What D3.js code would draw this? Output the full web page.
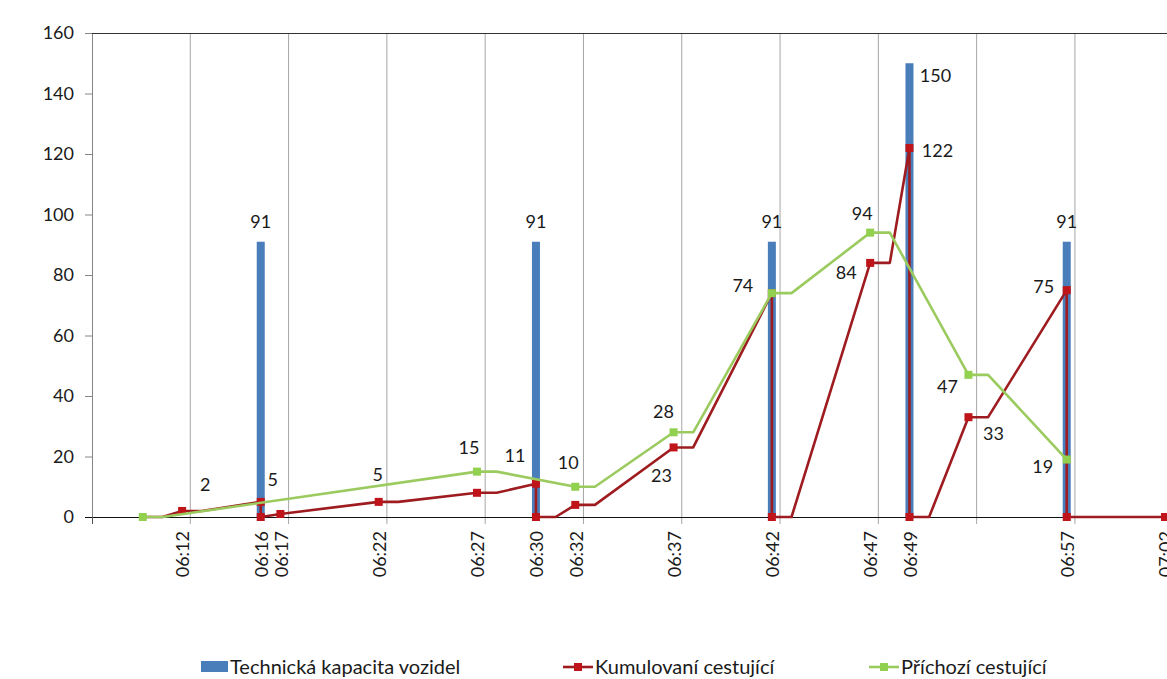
<!DOCTYPE html>
<html>
<head>
<meta charset="utf-8">
<script src="https://cdn.jsdelivr.net/npm/d3@7/dist/d3.min.js"></script>
<style>
  html, body { margin: 0; padding: 0; background: #fff; }
  svg { display: block; }
  text { font-family: Lato, "Open Sans", sans-serif; fill: #1a1a1a; }
</style>
</head>
<body>
<svg id="chart" width="1167" height="679"></svg>
<script>
// ---- data -------------------------------------------------------------
// vehicle capacity at each departure
const capacityTimes  = ["06:16", "06:30", "06:42", "06:49", "06:57"];
const capacityValues = [91, 91, 91, 150, 91];

// cumulative waiting passengers (drops to 0 at each departure)
const queueTimes  = ["06:10","06:11","06:12","06:13","06:16","06:16","06:17","06:22","06:23","06:27","06:28",
                     "06:30","06:30","06:31","06:32","06:33","06:37","06:38","06:42","06:42","06:43",
                     "06:47","06:48","06:49","06:49","06:50","06:52","06:53","06:57","06:57","07:02"];
const queueValues = [0, 0, 2, 2, 5, 0, 1, 5, 5, 8, 8,
                     11, 0, 0, 4, 4, 23, 23, 74, 0, 0,
                     84, 84, 122, 0, 0, 33, 33, 75, 0, 0];
const queueMarked = [0, 0, 1, 0, 1, 1, 1, 1, 0, 1, 0,
                     1, 1, 0, 1, 0, 1, 0, 1, 1, 0,
                     1, 0, 1, 1, 0, 1, 0, 1, 1, 1];

// arriving passengers
const arrivalTimes  = ["06:10","06:11","06:27","06:28","06:32","06:33","06:37","06:38",
                       "06:42","06:43","06:47","06:48","06:52","06:53","06:57"];
const arrivalValues = [0, 0, 15, 15, 10, 10, 28, 28, 74, 74, 94, 94, 47, 47, 19];
const arrivalMarked = [1, 0, 1, 0, 1, 0, 1, 0, 1, 0, 1, 0, 1, 0, 1];

// labelled times on the category axis
const tickTimes = ["06:12","06:16","06:17","06:22","06:27","06:30","06:32","06:37",
                   "06:42","06:47","06:49","06:57","07:02"];
const yTicks = [0, 20, 40, 60, 80, 100, 120, 140, 160];

const seriesNames = ["Technická kapacita vozidel", "Kumulovaní cestující", "Příchozí cestující"];

// ---- label placement (index into series -> offset of label centre) -----
const queueLabelOffsets = new Map([
  [2, [23, -26]], [4, [12, -22]], [7, [-1, -27]], [11, [-21, -28]], [16, [-12, 28]],
  [21, [-24, 10]], [23, [28, 3]], [26, [25, 17]], [28, [-23, -3]]
]);
const arrivalLabelOffsets = new Map([
  [2, [-8, -24]], [4, [-7, -24]], [6, [-10, -21]], [8, [-29, -7]],
  [10, [-8, -19]], [12, [-21, 12]], [14, [-24, 7]]
]);
const capacityLabelOffsets = [[0, -20], [0, -20], [0, -20], [26, 12], [0, -20]];

// ---- layout ------------------------------------------------------------
const colors = { bar: "#4A7EBB", red: "#9E1C20", redMark: "#C0141B", green: "#9BCB5F", greenMark: "#92D050" };
const plot = { left: 92, right: 1167, top: 33, bottom: 517 };

const parse = d3.timeParse("%H:%M");
const fmt = d3.timeFormat("%H:%M");
const t0 = new Date(parse("06:07").getTime() + 25 * 1000);
const t1 = new Date(parse("07:02").getTime() + 6 * 1000);

const x = d3.scaleTime().domain([t0, t1]).range([plot.left, plot.right]);
const y = d3.scaleLinear().domain([0, 160]).range([plot.bottom, plot.top]);

const svg = d3.select("#chart");

// vertical gridlines every 5 minutes
const gridTimes = d3.range(1, 11).map(i => new Date(t0.getTime() + i * 5 * 60000));
svg.append("g").selectAll("line").data(gridTimes).join("line")
  .attr("x1", d => x(d)).attr("x2", d => x(d))
  .attr("y1", plot.top).attr("y2", plot.bottom + 7)
  .attr("stroke", "#a6a6a6").attr("stroke-width", 1);

// y axis
const yAxis = svg.append("g").attr("transform", `translate(${plot.left},0)`)
  .call(d3.axisLeft(y).tickValues(yTicks).tickSize(7).tickPadding(11));
yAxis.select(".domain").attr("stroke", "#868686");
yAxis.selectAll(".tick line").attr("stroke", "#868686");
yAxis.selectAll("text").style("font-size", "18px").attr("fill", "#1a1a1a");

// top border
svg.append("line").attr("x1", plot.left).attr("x2", plot.right)
  .attr("y1", plot.top + 0.5).attr("y2", plot.top + 0.5).attr("stroke", "#333");

// bars (capacity)
const bars = capacityTimes.map((t, i) => ({ t: parse(t), v: capacityValues[i], i }));
svg.append("g").selectAll("rect").data(bars).join("rect")
  .attr("x", d => x(d.t) - 4).attr("width", 8)
  .attr("y", d => y(d.v)).attr("height", d => y(0) - y(d.v))
  .attr("fill", colors.bar);

// x axis line
svg.append("line").attr("x1", plot.left - 7).attr("x2", plot.right)
  .attr("y1", plot.bottom + 0.5).attr("y2", plot.bottom + 0.5).attr("stroke", "#111").attr("stroke-width", 1.2);
svg.append("line").attr("x1", plot.left + 0.5).attr("x2", plot.left + 0.5)
  .attr("y1", plot.bottom).attr("y2", plot.bottom + 7).attr("stroke", "#555");

// x tick labels (rotated)
const xAxis = svg.append("g").attr("transform", `translate(0,${plot.bottom + 14})`)
  .call(d3.axisBottom(x).tickValues(tickTimes.map(parse)).tickFormat(fmt).tickSize(0).tickPadding(0));
xAxis.select(".domain").remove();
xAxis.selectAll("text")
  .style("font-size", "18px").attr("fill", "#1a1a1a")
  .attr("text-anchor", "end")
  .attr("transform", "rotate(-90)")
  .attr("x", 0).attr("y", 0).attr("dy", "0.38em").attr("dx", "0");

// lines
function series(times, values, marked) {
  return times.map((t, i) => ({ t: parse(t), v: values[i], m: !!marked[i], i }));
}
const queue = series(queueTimes, queueValues, queueMarked);
const arrival = series(arrivalTimes, arrivalValues, arrivalMarked);
const line = d3.line().x(d => x(d.t)).y(d => y(d.v));

function drawSeries(data, lineColor, markColor) {
  const g = svg.append("g");
  g.append("path").datum(data).attr("d", line)
    .attr("fill", "none").attr("stroke", lineColor).attr("stroke-width", 2.6)
    .attr("stroke-linejoin", "round");
  g.selectAll("rect").data(data.filter(d => d.m)).join("rect")
    .attr("x", d => x(d.t) - 4).attr("y", d => y(d.v) - 4)
    .attr("width", 8).attr("height", 8).attr("fill", markColor);
}
drawSeries(queue, colors.red, colors.redMark);
drawSeries(arrival, colors.green, colors.greenMark);

// value labels
const labels = svg.append("g").style("font-size", "18px");
function addLabels(data, offsets) {
  labels.selectAll(null).data(data.filter(d => offsets.has(d.i))).join("text")
    .attr("x", d => x(d.t) + offsets.get(d.i)[0])
    .attr("y", d => y(d.v) + offsets.get(d.i)[1])
    .attr("dy", "0.35em").attr("text-anchor", "middle")
    .text(d => d.v);
}
addLabels(queue, queueLabelOffsets);
addLabels(arrival, arrivalLabelOffsets);
labels.selectAll(null).data(bars).join("text")
  .attr("x", d => x(d.t) + capacityLabelOffsets[d.i][0])
  .attr("y", d => y(d.v) + capacityLabelOffsets[d.i][1])
  .attr("dy", "0.35em").attr("text-anchor", "middle")
  .text(d => d.v);

// legend
const legend = svg.append("g").attr("transform", "translate(0,667)");
const legendX = [201, 563, 869];
legend.append("rect").attr("x", legendX[0]).attr("y", -6).attr("width", 27).attr("height", 11).attr("fill", colors.bar);
[[colors.red, colors.redMark], [colors.green, colors.greenMark]].forEach(([lc, mc], k) => {
  const lx = legendX[k + 1];
  legend.append("line").attr("x1", lx).attr("x2", lx + 30).attr("y1", 0).attr("y2", 0)
    .attr("stroke", lc).attr("stroke-width", 2.6);
  legend.append("rect").attr("x", lx + 11).attr("y", -4).attr("width", 8).attr("height", 8).attr("fill", mc);
});
legend.selectAll("text").data(seriesNames).join("text")
  .attr("x", (d, i) => legendX[i] + (i === 0 ? 29 : 32))
  .attr("y", 0).attr("dy", "0.35em")
  .style("font-size", "20px")
  .text(d => d);
</script>
</body>
</html>
